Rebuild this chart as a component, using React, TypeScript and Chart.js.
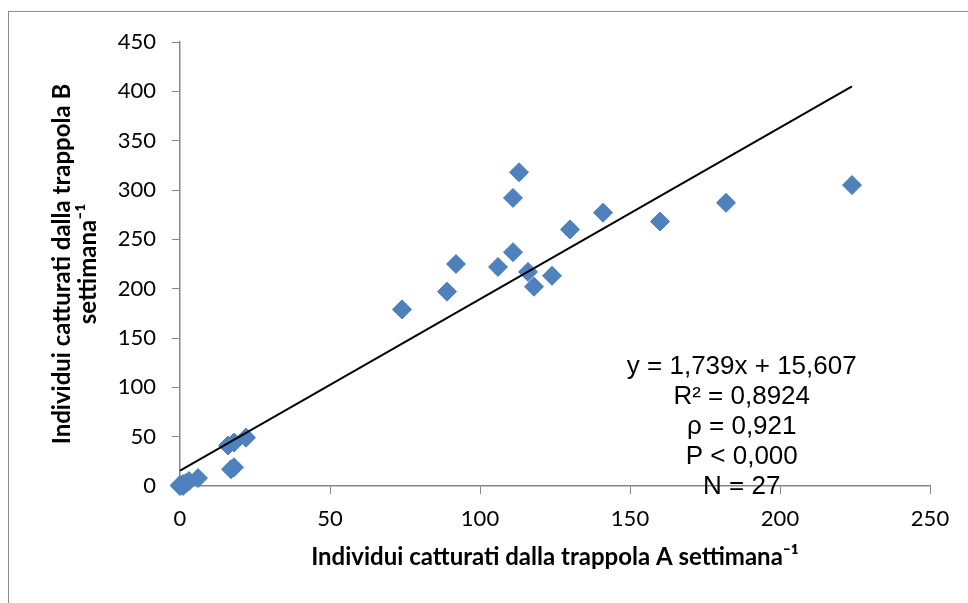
import React, { useEffect, useRef } from "react";
import { Chart, registerables } from "chart.js";

Chart.register(...registerables);

// Data
const trapA: number[] = [0, 0, 1, 1, 2, 3, 6, 16, 18, 22, 17, 18, 74, 89, 92, 106, 111, 111, 113, 116, 118, 124, 130, 141, 160, 182, 224];
const trapB: number[] = [0, 1, 0, 2, 3, 5, 8, 41, 44, 49, 17, 19, 179, 197, 225, 222, 237, 292, 318, 217, 202, 213, 260, 277, 268, 287, 305];

const slope = 1.739;
const intercept = 15.607;
const trendX: number[] = [0, 224];

const annotationLines: string[] = [
  "y = 1,739x + 15,607",
  "R² = 0,8924",
  "ρ = 0,921",
  "P < 0,000",
  "N = 27",
];

const xTitle = "Individui catturati dalla trappola A settimana⁻¹";
const yTitle: string[] = ["Individui catturati dalla trappola B", "settimana⁻¹"];

const W = 968;
const H = 603;
const AREA_LEFT = 180;
const AREA_RIGHT = 930;
const AREA_TOP = 42;
const AREA_BOTTOM = 486;

const framePlugin = {
  id: "frame",
  beforeDraw(chart: any) {
    const ctx = chart.ctx;
    ctx.save();
    ctx.fillStyle = "#ffffff";
    ctx.fillRect(0, 0, W, H);
    ctx.strokeStyle = "#8c8c8c";
    ctx.lineWidth = 1;
    ctx.strokeRect(8.5, 11.5, W + 20, H + 20);
    ctx.restore();
  },
};

const annotationPlugin = {
  id: "annot",
  afterDraw(chart: any) {
    const ctx = chart.ctx;
    const a = chart.chartArea;
    const cx = a.left + (a.right - a.left) * 0.749;
    let cy = a.top + (a.bottom - a.top) * 0.732;
    ctx.save();
    ctx.font = "26px 'Liberation Sans', Arial, sans-serif";
    ctx.fillStyle = "#000000";
    ctx.textAlign = "center";
    ctx.textBaseline = "middle";
    for (const line of annotationLines) {
      ctx.fillText(line, cx, cy);
      cy += 30;
    }
    ctx.restore();
  },
};

export default function App() {
  const ref = useRef<HTMLCanvasElement | null>(null);

  useEffect(() => {
    if (!ref.current) return;
    const points = trapA.map((x, i) => ({ x, y: trapB[i] }));
    const trend = trendX.map((x) => ({ x, y: slope * x + intercept }));
    const chart = new Chart(ref.current, {
      type: "scatter",
      data: {
        datasets: [
          {
            type: "line",
            data: trend,
            borderColor: "#000000",
            borderWidth: 2,
            pointRadius: 0,
            fill: false,
            order: 0,
          } as any,
          {
            data: points,
            backgroundColor: "#4F81BD",
            borderColor: "#4A7EBB",
            borderWidth: 1,
            pointStyle: "rectRot",
            pointRadius: 9.5,
            clip: false,
            order: 1,
          } as any,
        ],
      },
      options: {
        responsive: false,
        animation: false,
        events: [],
        layout: { padding: { left: 0, top: AREA_TOP, right: W - AREA_RIGHT, bottom: 0 } },
        plugins: { legend: { display: false }, tooltip: { enabled: false } },
        scales: {
          x: {
            type: "linear",
            min: 0,
            max: 250,
            afterFit: (s: any) => {
              s.height = H - AREA_BOTTOM;
            },
            ticks: {
              stepSize: 50,
              color: "#000000",
              font: { family: "Lato", size: 22 },
              padding: 12,
              maxRotation: 0,
            },
            grid: { drawOnChartArea: false, drawTicks: true, tickLength: 8, color: "#868686", lineWidth: 1 },
            border: { display: true, color: "#868686", width: 1.5 },
            title: {
              display: true,
              text: xTitle,
              color: "#000000",
              font: { family: "Lato", size: 24, weight: "bold", lineHeight: 1.08 },
              padding: { top: 0, bottom: 33 },
            },
          },
          y: {
            type: "linear",
            min: 0,
            max: 450,
            afterFit: (s: any) => {
              s.width = AREA_LEFT;
            },
            ticks: {
              stepSize: 50,
              color: "#000000",
              font: { family: "Lato", size: 22 },
              padding: 16,
            },
            grid: { drawOnChartArea: false, drawTicks: true, tickLength: 8, color: "#868686", lineWidth: 1 },
            border: { display: true, color: "#868686", width: 1.5 },
            title: {
              display: true,
              text: yTitle,
              color: "#000000",
              font: { family: "Lato", size: 24, weight: "bold", lineHeight: 1.08 },
              padding: { top: 49, bottom: 0 },
            },
          },
        },
      },
      plugins: [framePlugin, annotationPlugin],
    });
    return () => chart.destroy();
  }, []);

  return (
    <div style={{ position: "fixed", left: 0, top: 0, width: W, height: H, background: "#fff" }}>
      <canvas ref={ref} width={W} height={H} style={{ width: W, height: H, display: "block" }} />
    </div>
  );
}
